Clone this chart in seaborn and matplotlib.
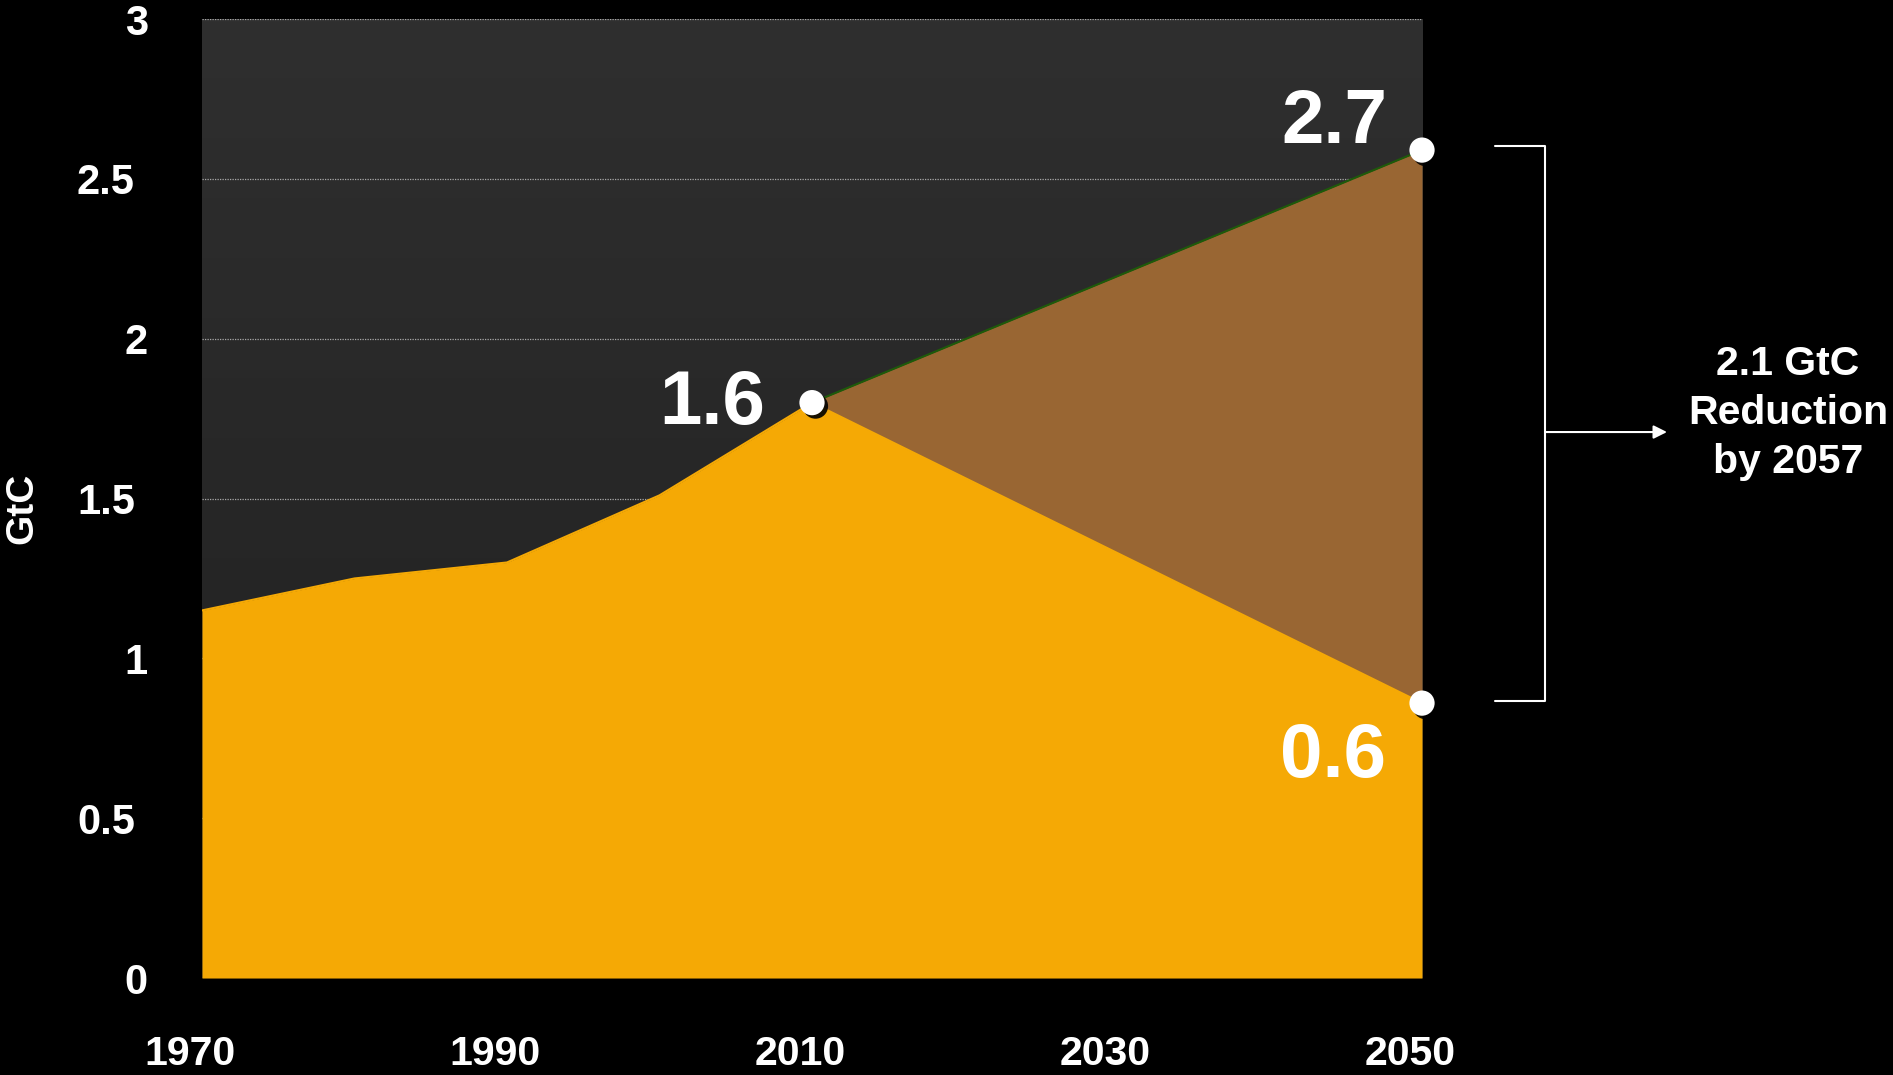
import numpy as np
import matplotlib
matplotlib.use("Agg")
import matplotlib.pyplot as plt
import matplotlib.patheffects as pe
from matplotlib.colors import LinearSegmentedColormap
from matplotlib.lines import Line2D
from matplotlib.transforms import ScaledTranslation
import seaborn as sns

# historical emissions, GtC
hist_years = [1970, 1980, 1990, 2000, 2010]
hist_values = [1.15, 1.25, 1.30, 1.51, 1.80]

# projections from 2010 to 2050
proj_years = [2010, 2050]
baseline = [1.80, 2.59]
stabilized = [1.80, 0.86]

point_labels = ["1.6", "2.7", "0.6"]
x_ticks = [1970, 1990, 2010, 2030, 2050]
y_ticks = [0, 0.5, 1, 1.5, 2, 2.5, 3]
y_tick_labels = ["0", "0.5", "1", "1.5", "2", "2.5", "3"]
note_text = "2.1 GtC\nReduction\nby 2057"

ORANGE = "#F5A905"
BROWN = "#996633"
GREEN = "#1E5A0A"

sns.set_theme(style="dark", rc={
    "figure.facecolor": "black",
    "axes.facecolor": "#262626",
    "text.color": "white",
    "xtick.color": "white",
    "ytick.color": "white",
    "axes.labelcolor": "white",
})
plt.rcParams["font.family"] = ["Liberation Sans", "DejaVu Sans"]
plt.rcParams["font.weight"] = "bold"

fig = plt.figure(figsize=(18.93, 10.75), dpi=100, facecolor="black")
ax = fig.add_axes([0.1067, 0.0902, 0.6445, 0.8921])

# dark gradient background of the plot area
grad = np.linspace(1, 0, 256).reshape(-1, 1)
cmap = LinearSegmentedColormap.from_list("bg", ["#1f1f1f", "#2f2f2f"])
ax.imshow(grad, extent=(1970, 2050, 0, 3), aspect="auto", cmap=cmap, zorder=0)

ax.grid(axis="y", color="#a8a8a8", linestyle=(0, (1, 1)), linewidth=0.9)
ax.grid(axis="x", visible=False)
ax.set_axisbelow(True)

# stabilised path = history followed by the falling projection
stab_years = hist_years + proj_years[1:]
stab_values = hist_values + stabilized[1:]

ax.fill_between(proj_years, stabilized, baseline, color=BROWN, linewidth=0, zorder=2)
ax.fill_between(stab_years, 0, stab_values, color=ORANGE, linewidth=0, zorder=2)
sns.lineplot(x=stab_years, y=stab_values, color=ORANGE, linewidth=1.5, ax=ax, zorder=3)
sns.lineplot(x=proj_years, y=baseline, color=GREEN, linewidth=1.5, ax=ax, zorder=3)

# end points
dot_x = [hist_years[-1], proj_years[-1], proj_years[-1]]
dot_y = [hist_values[-1], baseline[-1], stabilized[-1]]
sns.scatterplot(x=dot_x, y=dot_y, s=330, color="white", edgecolor="none",
                ax=ax, zorder=5, clip_on=False,
                path_effects=[pe.SimplePatchShadow(offset=(2.5, -2.5), shadow_rgbFace="black", alpha=0.9),
                              pe.Normal()])

offsets = [(-72, -1), (-63, 19), (-64, -39)]
for x, y, lab, off in zip(dot_x, dot_y, point_labels, offsets):
    ax.annotate(lab, xy=(x, y), xytext=off, textcoords="offset points",
                ha="center", va="center", fontsize=55, fontweight="bold",
                color="white", zorder=6)

ax.set_xlim(1970, 2050)
ax.set_ylim(0, 3)
ax.set_xticks(x_ticks)
ax.set_xticklabels([str(t) for t in x_ticks])
ax.set_yticks(y_ticks)
ax.set_yticklabels(y_tick_labels)
ax.tick_params(axis="x", length=0, pad=41, labelsize=29.5)
ax.tick_params(axis="y", length=0, pad=39, labelsize=30)
for lbl in ax.get_xticklabels():
    lbl.set_transform(lbl.get_transform() + ScaledTranslation(-0.12, 0, fig.dpi_scale_trans))
# half-step labels sit a little further left in the original
for lbl in ax.get_yticklabels():
    if "." in lbl.get_text():
        lbl.set_transform(lbl.get_transform() + ScaledTranslation(-0.13, 0, fig.dpi_scale_trans))
for s in ax.spines.values():
    s.set_visible(False)

ax.set_ylabel("GtC", fontsize=28, fontweight="bold")
ax.yaxis.set_label_coords(-0.1475, 0.49)
ax.yaxis.label.set_verticalalignment("center")

# bracket + arrow to the note
fig.add_artist(Line2D([0.7898, 0.8162, 0.8162, 0.7898], [0.8642, 0.8642, 0.3479, 0.3479],
                      transform=fig.transFigure, color="white", linewidth=1.5))
ax.annotate("", xy=(0.8806, 0.5981), xytext=(0.8162, 0.5981),
            xycoords="figure fraction", textcoords="figure fraction",
            arrowprops=dict(arrowstyle="-|>", color="white", lw=1.5, mutation_scale=20,
                            shrinkA=0, shrinkB=0))
fig.text(0.9445, 0.6158, note_text, ha="center", va="center", fontsize=29.5,
         fontweight="bold", color="white", linespacing=1.38)

fig.savefig("out.png", dpi=100, facecolor="black")
